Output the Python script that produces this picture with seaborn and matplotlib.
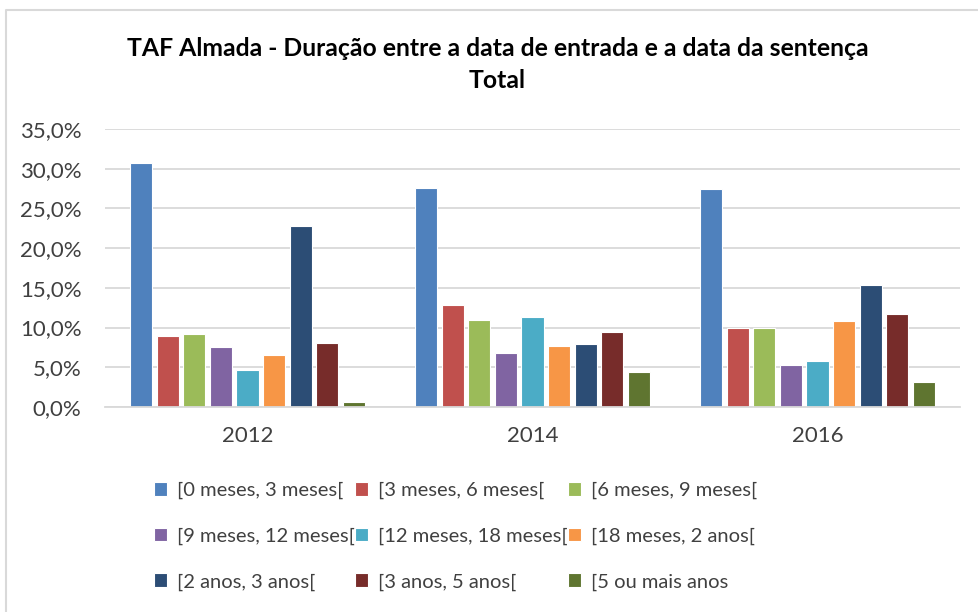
import pandas as pd
import numpy as np
import matplotlib
matplotlib.use('Agg')
import matplotlib.pyplot as plt
from matplotlib.ticker import FuncFormatter, MultipleLocator
from matplotlib.lines import Line2D
import seaborn as sns

# dados (percentagens)
anos = ['2012', '2014', '2016']
categorias = ['[0 meses, 3 meses[', '[3 meses, 6 meses[', '[6 meses, 9 meses[',
              '[9 meses, 12 meses[', '[12 meses, 18 meses[', '[18 meses, 2 anos[',
              '[2 anos, 3 anos[', '[3 anos, 5 anos[', '[5 ou mais anos']
valores_2012 = [30.7, 9.0, 9.2, 7.6, 4.7, 6.6, 22.8, 8.1, 0.6]
valores_2014 = [27.6, 12.8, 11.0, 6.8, 11.3, 7.7, 7.9, 9.5, 4.4]
valores_2016 = [27.5, 9.9, 9.9, 5.3, 5.8, 10.8, 15.4, 11.7, 3.1]
cores = ['#4F81BD', '#C0504D', '#9BBB59', '#8064A2', '#4BACC6',
         '#F79646', '#2C4D75', '#772C2A', '#5F7530']

rows = []
for ano, vals in zip(anos, [valores_2012, valores_2014, valores_2016]):
    for cat, v in zip(categorias, vals):
        rows.append({'ano': ano, 'categoria': cat, 'valor': v / 100})
df = pd.DataFrame(rows)

sns.set_style('white')
plt.rcParams['font.family'] = ['Lato', 'DejaVu Sans']

fig = plt.figure(figsize=(9.79, 6.12), dpi=100)
ax = fig.add_axes([105 / 979, 1 - 407 / 612, 855 / 979, 278 / 612])

sns.barplot(data=df, x='ano', y='valor', hue='categoria', order=anos,
            hue_order=categorias, palette=cores, saturation=1, width=0.84, gap=0.17,
            edgecolor='white', linewidth=0.8, errorbar=None, ax=ax)

ax.set_ylim(0, 0.35)
ax.set_xlim(-0.5, 2.5)
ax.yaxis.set_major_locator(MultipleLocator(0.05))
ax.yaxis.set_major_formatter(FuncFormatter(lambda v, p: f"{v*100:.1f}%".replace('.', ',')))
ax.grid(axis='y', color='#D9D9D9', linewidth=1.3)
ax.set_axisbelow(True)
for s in ['top', 'right', 'left']:
    ax.spines[s].set_visible(False)
ax.spines['bottom'].set_color('#D9D9D9')
ax.spines['bottom'].set_linewidth(1.3)
ax.tick_params(axis='both', length=0, labelsize=16, colors='#404040')
ax.tick_params(axis='y', pad=17)
ax.tick_params(axis='x', pad=14)
ax.set_xlabel('')
ax.set_ylabel('')

# legenda preenchida por linhas (como no Excel)
handles, labels = ax.get_legend_handles_labels()
ax.get_legend().remove()
ordem = [0, 3, 6, 1, 4, 7, 2, 5, 8]
fig.legend([handles[i] for i in ordem], [labels[i] for i in ordem], ncol=3,
           loc='upper left', bbox_to_anchor=(136 / 979, 1 - 464 / 612),
           frameon=False, fontsize=14.5, handlelength=0.65, handleheight=0.65,
           handletextpad=0.5, columnspacing=0.0, labelspacing=1.4, labelcolor='#404040')

fig.text(0.508, 1 - 48 / 612, 'TAF Almada - Duração entre a data de entrada e a data da sentença',
         ha='center', va='center', fontsize=17.8, fontweight='bold', color='#000000')
fig.text(0.508, 1 - 80 / 612, 'Total', ha='center', va='center',
         fontsize=17.8, fontweight='bold', color='#000000')

# borda da área do gráfico
fig.add_artist(Line2D([6 / 979, 6 / 979, 1], [0, 1 - 10 / 612, 1 - 10 / 612],
                      transform=fig.transFigure, color='#D9D9D9', linewidth=1.5))

fig.savefig('out.png', dpi=100)
